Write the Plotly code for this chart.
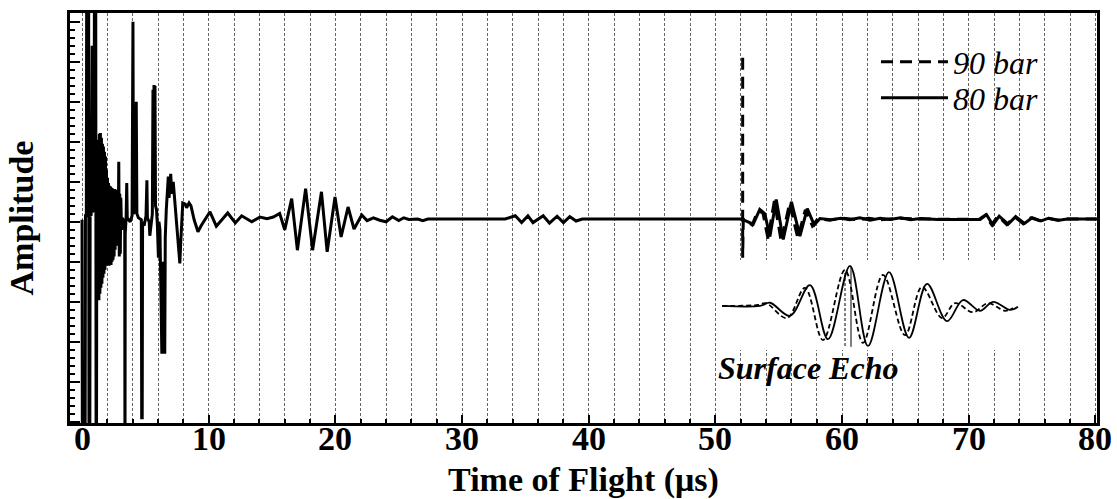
import plotly.graph_objects as go

# ---------------- data ----------------
# 80 bar signal: time of flight (us) and amplitude (arb. units)
t80 = [0.00, 0.03, 0.24, 0.27, 0.34, 0.37, 0.52, 0.55, 0.61, 0.64, 0.72, 0.76, 0.80, 0.83,
       0.95, 0.98, 1.08, 1.11, 1.14,
       1.17, 1.20, 1.23, 1.26, 1.29, 1.33, 1.37, 1.41, 1.45, 1.49, 1.53, 1.57, 1.61, 1.65,
       1.69, 1.73, 1.77, 1.81, 1.85, 1.89, 1.93, 1.97, 2.01, 2.05, 2.09, 2.13, 2.17, 2.21,
       2.25, 2.29, 2.33, 2.37, 2.41, 2.45, 2.49, 2.53, 2.57, 2.61, 2.65, 2.69, 2.73, 2.77,
       2.81, 2.85, 2.90, 2.94, 2.98, 3.02, 3.06, 3.12, 3.20, 3.30, 3.37, 3.39, 3.41, 3.48,
       3.53, 3.57, 3.80, 3.95, 4.02, 4.06, 4.20, 4.28, 4.33, 4.45, 4.68, 4.71, 4.75, 4.78,
       4.90, 5.05, 5.12, 5.16, 5.30, 5.35, 5.55, 5.60, 5.64, 5.68, 5.72, 5.76, 5.80, 5.88,
       5.95, 6.03, 6.07, 6.15, 6.30, 6.36, 6.42, 6.48, 6.53, 6.57, 6.65, 6.81, 6.87, 7.00,
       7.08, 7.20, 7.40, 7.55, 7.72, 7.78, 7.95, 8.15, 8.25, 8.45, 8.60, 8.85, 9.15, 9.40,
       10.10, 10.60, 11.50, 12.10, 12.60, 13.40, 14.05, 14.60, 15.10, 15.60, 16.00, 16.55,
       17.00, 17.65, 18.20, 18.90, 19.35, 19.97, 20.45, 21.00, 21.47, 22.08, 22.50, 23.00,
       23.50, 24.00, 24.50, 25.00, 25.40, 25.80, 26.50, 26.90, 27.30, 33.40, 34.20, 34.70,
       35.20, 35.60, 36.40, 36.90, 37.50, 38.00, 38.50, 39.00, 39.50, 52.05, 52.98, 53.50,
       53.90, 54.30, 54.80, 55.35, 56.00, 56.67, 57.25, 57.80, 58.25, 59.10, 59.90, 60.60,
       61.40, 62.20, 63.00, 63.80, 64.60, 65.40, 66.20, 67.50, 70.90, 71.40, 71.90, 72.40,
       73.10, 73.70, 74.40, 75.00, 75.70, 76.30, 77.10, 77.80, 80.10]
a80 = [0.05, -6.5, -6.5, 0.15, 0.15, 6.5, 6.5, -6.5, -6.5, 0.20, 0.15, 4.40, 4.40, 0.25,
       0.30, 6.5, 6.5, -6.5, -6.5,
       1.88, -1.37, 1.95, -1.60, 2.05, -1.96, 2.20, -1.80, 2.22, -1.65, 2.10, -1.55, 1.95, -1.40,
       1.88, -1.30, 1.75, -1.20, 1.63, -1.10, 1.30, -1.08, 1.10, -1.05, 0.97, -1.10, 0.90, -1.05,
       0.88, -1.08, 0.85, -1.00, 0.83, -0.95, 0.80, -0.87, 0.82, -0.70, 0.80, -0.50, 0.78, -0.40,
       0.60, -0.60, 1.50, -0.87, 0.70, -0.80, 0.60, -0.20, 0.10, -0.05, -0.10, -6.5, -0.30, 0.10,
       0.97, 0.10, 0.00, 0.15, 5.00, 0.20, 0.30, 3.00, 0.20, 0.10, 0.05, -4.90, -4.90, 0.00,
       -0.10, 0.15, 1.04, 0.10, 0.00, -0.35, 0.20, 3.30, 0.50, 3.42, 0.60, 3.40, 0.40, 0.30,
       -0.10, -0.90, 0.00, -0.20, -3.30, -1.00, -3.30, -1.00, -3.30, -0.40, 0.30, 1.13, 0.60, 1.20,
       0.70, 1.00, 0.20, -0.30, -1.04, -0.60, 0.47, 0.44, 0.35, 0.47, 0.40, 0.05, -0.25, -0.10,
       0.25, -0.11, 0.22, -0.03, 0.15, 0.00, 0.12, 0.08, 0.12, 0.21, -0.20, 0.58,
       -0.71, 0.83, -0.71, 0.75, -0.75, 0.62, -0.38, 0.37, -0.18, 0.17, 0.03, 0.10,
       0.04, 0.00, 0.125, 0.03, 0.10, 0.06, 0.07, 0.03, 0.07, 0.07, 0.15, -0.02,
       0.15, -0.02, 0.15, -0.03, 0.14, -0.02, 0.13, 0.02, 0.07, 0.07, -0.06, 0.31,
       0.20, -0.37, 0.56, -0.44, 0.50, -0.36, 0.33, -0.08, 0.08, 0.05, 0.09, 0.05,
       0.10, 0.04, 0.09, 0.06, 0.10, 0.05, 0.08, 0.06, 0.06, 0.18, -0.08, 0.14,
       -0.06, 0.13, -0.04, 0.10, 0.02, 0.09, 0.04, 0.07, 0.07]

# 90 bar signal (starts with the trigger mark at ~52 us)
t90 = [52.15, 52.15, 52.20, 52.90, 53.35, 53.75, 54.15, 54.65, 55.20, 55.85, 56.50, 57.10,
       57.65, 58.10, 59.00, 60.00, 61.30, 62.10, 63.00, 64.50, 66.00, 70.80, 71.30, 71.80,
       72.30, 73.00, 73.60, 74.30, 74.90, 75.60, 76.20, 77.00, 77.70, 80.10]
a90 = [4.10, -0.90, 0.07, -0.08, 0.28, 0.22, -0.42, 0.52, -0.50, 0.46, -0.40, 0.30,
       -0.10, 0.08, 0.04, 0.09, 0.05, 0.09, 0.05, 0.09, 0.07, 0.06, 0.17, -0.07,
       0.14, -0.07, 0.13, -0.05, 0.10, 0.03, 0.09, 0.04, 0.07, 0.07]

# Inset: expanded surface echo (time in us, normalised amplitude)
ti80 = [52.54, 53.30, 53.50, 53.90, 54.30, 54.66, 55.10, 55.46, 55.88, 56.28, 56.64,
        57.04, 57.36, 57.70, 57.96, 58.30, 58.46]
ai80 = [-0.02, -0.02, 0.05, -0.24, 0.44, -0.76, 0.87, -0.91, 0.73, -0.73, 0.47,
        -0.36, 0.11, -0.13, 0.07, -0.11, -0.04]
ti90 = [52.54, 53.26, 53.42, 53.84, 54.20, 54.56, 55.00, 55.36, 55.76, 56.20, 56.54,
        56.94, 57.20, 57.56, 57.86, 58.20, 58.36]
ai90 = [-0.02, 0.00, 0.04, -0.29, 0.38, -0.78, 0.78, -0.84, 0.67, -0.67, 0.40,
        -0.29, 0.04, -0.16, 0.04, -0.13, -0.07]
peak80_t = [55.12, 55.12]
peak80_a = [0.86, -0.93]
peak90_t = [55.00, 55.00]
peak90_a = [0.71, -0.93]

x_ticks = [0, 10, 20, 30, 40, 50, 60, 70, 80]
x_tick_labels = ["0", "10", "20", "30", "40", "50", "60", "70", "80"]
names = ["90 bar", "80 bar"]
x_title = "Time of Flight (μs)"
y_title = "Amplitude"
inset_label = "Surface Echo"

# ---------------- figure ----------------
SERIF = "Liberation Serif"
fig = go.Figure()

fig.add_trace(go.Scatter(x=t90, y=a90, mode="lines", name=names[0], legend="legend",
                         line=dict(color="black", width=3, dash="12px,7px")))
fig.add_trace(go.Scatter(x=t80, y=a80, mode="lines", name=names[1], legend="legend2",
                         line=dict(color="black", width=3)))

# inset traces
fig.add_trace(go.Scatter(x=ti90, y=ai90, mode="lines", xaxis="x2", yaxis="y2", showlegend=False,
                         line=dict(color="black", width=1.8, dash="5px,3px", shape="spline")))
fig.add_trace(go.Scatter(x=ti80, y=ai80, mode="lines", xaxis="x2", yaxis="y2", showlegend=False,
                         line=dict(color="black", width=1.8, shape="spline")))
fig.add_trace(go.Scatter(x=peak90_t, y=peak90_a, mode="lines", xaxis="x2", yaxis="y2", showlegend=False,
                         line=dict(color="black", width=1, dash="3px,2px")))
fig.add_trace(go.Scatter(x=peak80_t, y=peak80_a, mode="lines", xaxis="x2", yaxis="y2", showlegend=False,
                         line=dict(color="black", width=1)))

L, R, T, B = 70, 20, 13, 76
W, H = 1117, 499
pw, ph = W - L - R, H - T - B

def px2paper_x(px):
    return (px - L) / pw

def py2paper_y(py):
    return (H - B - py) / ph

legend_font = dict(family=SERIF, size=32, style="italic", color="black")
tick_font = dict(family=SERIF, size=34, weight="bold", color="black")

# x tick labels, placed on the x axis scale just below the frame
tick_annotations = [dict(text=lab, x=v, xref="x", y=0, yref="paper", yshift=-15,
                         xanchor="center", yanchor="middle", showarrow=False, font=tick_font)
                    for v, lab in zip(x_ticks, x_tick_labels)]

fig.update_layout(
    width=W, height=H,
    margin=dict(l=L, r=R, t=T, b=B, pad=0, autoexpand=False),
    paper_bgcolor="white", plot_bgcolor="white",
    font=dict(family=SERIF, color="black"),
    showlegend=True,
    legend=dict(x=px2paper_x(876), y=py2paper_y(62), xanchor="left", yanchor="middle",
                bgcolor="rgba(0,0,0,0)", itemwidth=67, font=legend_font),
    legend2=dict(x=px2paper_x(876), y=py2paper_y(98), xanchor="left", yanchor="middle",
                 bgcolor="rgba(0,0,0,0)", itemwidth=67, font=legend_font),
    xaxis=dict(range=[-0.95, 80.12], tickvals=x_ticks, ticks="inside", ticklen=8, tickwidth=2,
               tickcolor="black", automargin=False, showticklabels=False,
               showline=True, linecolor="black", linewidth=2.5, mirror=True,
               showgrid=True, gridcolor="#666666", gridwidth=1, griddash="3px,2px",
               minor=dict(dtick=2, ticks="inside", ticklen=4, tickcolor="black",
                          showgrid=True, gridcolor="#666666", gridwidth=1, griddash="3px,2px"),
               zeroline=False,
               title=dict(text=x_title, standoff=54,
                          font=dict(family=SERIF, size=34, weight="bold", color="black"))),
    yaxis=dict(range=[-5.03, 5.22], dtick=1, tick0=0, ticks="inside", ticklen=10, tickwidth=1.5,
               tickcolor="black", showticklabels=False, automargin=False,
               showline=True, linecolor="black", linewidth=2.5, mirror=True,
               showgrid=False, zeroline=False,
               minor=dict(dtick=0.2, ticks="inside", ticklen=5, tickcolor="black", showgrid=False),
               title=dict(text=y_title, standoff=24,
                          font=dict(family=SERIF, size=34, weight="bold", color="black"))),
    xaxis2=dict(domain=[px2paper_x(720), px2paper_x(1020)], range=[52.5, 58.5], anchor="y2",
                visible=False),
    yaxis2=dict(domain=[py2paper_y(350), py2paper_y(260)], range=[-1, 1], anchor="x2",
                visible=False),
    annotations=tick_annotations + [
        dict(text=inset_label, xref="paper", yref="paper",
             x=px2paper_x(808), y=py2paper_y(368), xanchor="center", yanchor="middle",
             showarrow=False,
             font=dict(family=SERIF, size=32, style="italic", weight="bold", color="black"))],
)

fig.write_html("out.html")
